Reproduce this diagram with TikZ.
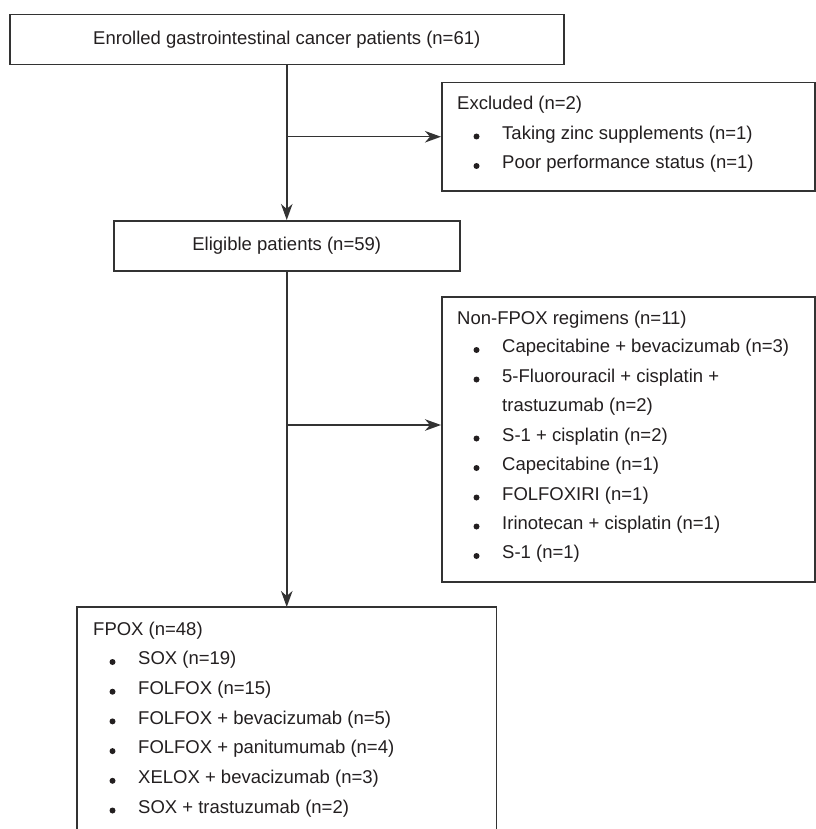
\documentclass[tikz,border=0pt]{standalone}
\usepackage{fontspec}
\setmainfont{Liberation Sans}
\usetikzlibrary{arrows.meta}
\definecolor{ln}{HTML}{333333}
\definecolor{txt}{HTML}{231F20}
\begin{document}
\begin{tikzpicture}[x=1pt,y=-1pt,
  every node/.style={font=\fontsize{18.5}{22}\selectfont, text=txt},
  box/.style={draw=ln, line width=1.5pt, inner sep=0pt, anchor=north west},
  openbox/.style={inner sep=0pt, anchor=north west},
  lbl/.style={anchor=west, inner sep=0pt, text height=0.72em, text depth=0.2em},
  bul/.style={circle, fill=txt, inner sep=0pt, minimum size=6pt},
  conn/.style={draw=ln, line width=1.5pt},
  flow/.style={conn, -{Stealth[length=16pt,width=11.5pt,inset=5pt]}},
]
\fill[white] (0,0) rectangle (815,829);
\useasboundingbox (0,0) rectangle (815,829);

% boxes
\node[box, minimum width=554pt, minimum height=50pt] (enr) at (9,14)
  {Enrolled gastrointestinal cancer patients (n=61)};
\node[box, minimum width=346pt, minimum height=50pt] (elig) at (113,220)
  {Eligible patients (n=59)};
\node[box, minimum width=373pt, minimum height=108pt] (excl) at (441,82) {};
\node[box, minimum width=373pt, minimum height=285pt] (nf) at (441,296) {};
\node[openbox, minimum width=419pt, minimum height=240pt] (fp) at (77,607) {};
\draw[conn] (fp.south west) -- (fp.north west) -- (fp.north east) -- (fp.south east);

% excluded contents
\node[lbl] (exT) at (457,107) {Excluded (n=2)};
\node[bul] (exB1) at (476.5,136.5) {};
\node[lbl] (exL1) at (502,136.5) {Taking zinc supplements (n=1)};
\node[bul] (exB2) at (476.5,166) {};
\node[lbl] (exL2) at (502,166) {Poor performance status (n=1)};

% non-FPOX contents
\node[lbl] (nfT) at (457,321.5) {Non-FPOX regimens (n=11)};
\node[bul] (nfB1) at (476.5,350) {};
\node[lbl] (nfL1) at (502,350) {Capecitabine + bevacizumab (n=3)};
\node[bul] (nfB2) at (476.5,379.5) {};
\node[lbl] (nfL2) at (502,379.5) {5-Fluorouracil + cisplatin +};
\node[lbl] (nfL2b) at (502,409) {trastuzumab (n=2)};
\node[bul] (nfB3) at (476.5,438.5) {};
\node[lbl] (nfL3) at (502,438.5) {S-1 + cisplatin (n=2)};
\node[bul] (nfB4) at (476.5,468) {};
\node[lbl] (nfL4) at (502,468) {Capecitabine (n=1)};
\node[bul] (nfB5) at (476.5,497.5) {};
\node[lbl] (nfL5) at (502,497.5) {FOLFOXIRI (n=1)};
\node[bul] (nfB6) at (476.5,526.5) {};
\node[lbl] (nfL6) at (502,526.5) {Irinotecan + cisplatin (n=1)};
\node[bul] (nfB7) at (476.5,556) {};
\node[lbl] (nfL7) at (502,556) {S-1 (n=1)};

% FPOX contents
\node[lbl] (fpT) at (93,632.5) {FPOX (n=48)};
\node[bul] (fpB1) at (112.5,662) {};
\node[lbl] (fpL1) at (138,662) {SOX (n=19)};
\node[bul] (fpB2) at (112.5,691.7) {};
\node[lbl] (fpL2) at (138,691.7) {FOLFOX (n=15)};
\node[bul] (fpB3) at (112.5,721.4) {};
\node[lbl] (fpL3) at (138,721.4) {FOLFOX + bevacizumab (n=5)};
\node[bul] (fpB4) at (112.5,751.1) {};
\node[lbl] (fpL4) at (138,751.1) {FOLFOX + panitumumab (n=4)};
\node[bul] (fpB5) at (112.5,780.8) {};
\node[lbl] (fpL5) at (138,780.8) {XELOX + bevacizumab (n=3)};
\node[bul] (fpB6) at (112.5,810.5) {};
\node[lbl] (fpL6) at (138,810.5) {SOX + trastuzumab (n=2)};

% connectors
\coordinate (j1) at (enr.south |- excl.west);
\coordinate (j2) at (286,425);
\draw[flow] (enr.south) -- (elig.north);
\draw[flow] (j1) -- (excl.west);
\draw[flow] (elig.south) -- (elig.south |- fp.north);
\draw[flow] (j2) -- (j2 -| nf.west);
\end{tikzpicture}
\end{document}
